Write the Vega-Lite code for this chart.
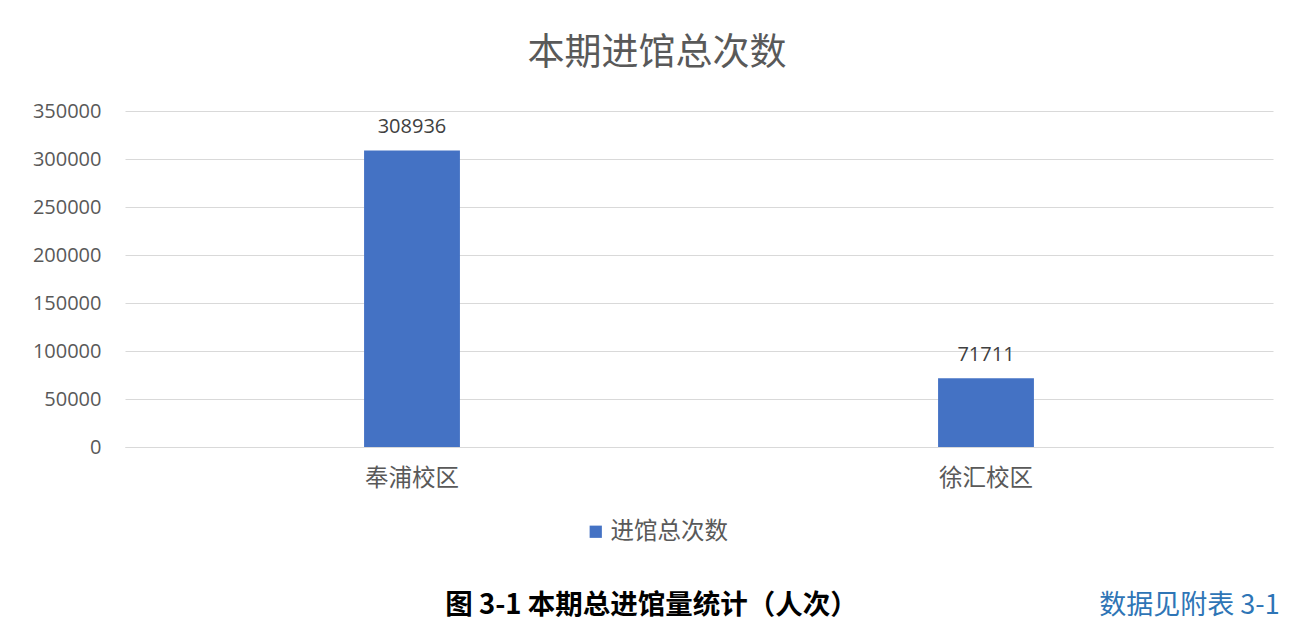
{
  "$schema": "https://vega.github.io/schema/vega-lite/v6.json",
  "width": 1148,
  "height": 336,
  "autosize": {"type": "none"},
  "padding": {"left": 125, "top": 111, "right": 41, "bottom": 189},
  "background": "white",
  "config": {"view": {"stroke": null}, "font": "Noto Sans CJK SC"},
  "title": {
    "text": "本期进馆总次数",
    "fontSize": 37,
    "fontWeight": "normal",
    "color": "#595959",
    "font": "Noto Sans CJK SC",
    "anchor": "middle",
    "dx": -42,
    "offset": 28
  },
  "data": {
    "values": [
      {"campus": "奉浦校区", "count": 308936, "series": "进馆总次数"},
      {"campus": "徐汇校区", "count": 71711, "series": "进馆总次数"}
    ]
  },
  "encoding": {
    "x": {
      "field": "campus",
      "type": "nominal",
      "sort": null,
      "scale": {"paddingInner": 0, "paddingOuter": 0},
      "axis": {
        "labelAngle": 0,
        "labelFontSize": 23.5,
        "labelColor": "#595959",
        "labelFont": "Noto Sans CJK SC",
        "labelPadding": 19,
        "ticks": false,
        "domain": true,
        "domainColor": "#d9d9d9",
        "domainWidth": 1,
        "title": "图 3-1 本期总进馆量统计（人次）",
        "titleFont": "Noto Sans CJK SC",
        "titleFontWeight": "bold",
        "titleFontSize": 27.5,
        "titleColor": "#000000",
        "titleX": 526,
        "titleY": 158,
        "titleAlign": "center",
        "titleBaseline": "middle"
      }
    },
    "y": {
      "field": "count",
      "type": "quantitative",
      "scale": {"domain": [0, 350000], "nice": false},
      "axis": {
        "values": [0, 50000, 100000, 150000, 200000, 250000, 300000, 350000],
        "format": "d",
        "labelFont": "Open Sans",
        "labelFontSize": 20,
        "labelColor": "#595959",
        "labelPadding": 24,
        "ticks": false,
        "domain": false,
        "grid": true,
        "gridColor": "#d9d9d9",
        "gridWidth": 1,
        "title": "数据见附表 3-1",
        "titleAngle": 0,
        "titleX": 1064,
        "titleY": 494,
        "titleFont": "Noto Sans CJK SC",
        "titleFontSize": 27,
        "titleFontWeight": "normal",
        "titleColor": "#2e75b6",
        "titleAlign": "center",
        "titleBaseline": "middle"
      }
    }
  },
  "layer": [
    {
      "mark": {"type": "bar", "width": {"band": 0.167}},
      "encoding": {
        "color": {
          "field": "series",
          "type": "nominal",
          "scale": {"range": ["#4472c4"]},
          "legend": {
            "orient": "none",
            "legendX": 459,
            "legendY": 409,
            "title": null,
            "symbolType": "square",
            "symbolSize": 150,
            "symbolStrokeWidth": 0,
            "labelOffset": 3,
            "labelFontSize": 23.5,
            "labelColor": "#595959",
            "labelFont": "Noto Sans CJK SC"
          }
        }
      }
    },
    {
      "mark": {"type": "text", "dy": -23, "fontSize": 20, "color": "#404040", "font": "Open Sans", "baseline": "middle"},
      "encoding": {
        "text": {"field": "count", "type": "quantitative", "format": "d"}
      }
    }
  ]
}
